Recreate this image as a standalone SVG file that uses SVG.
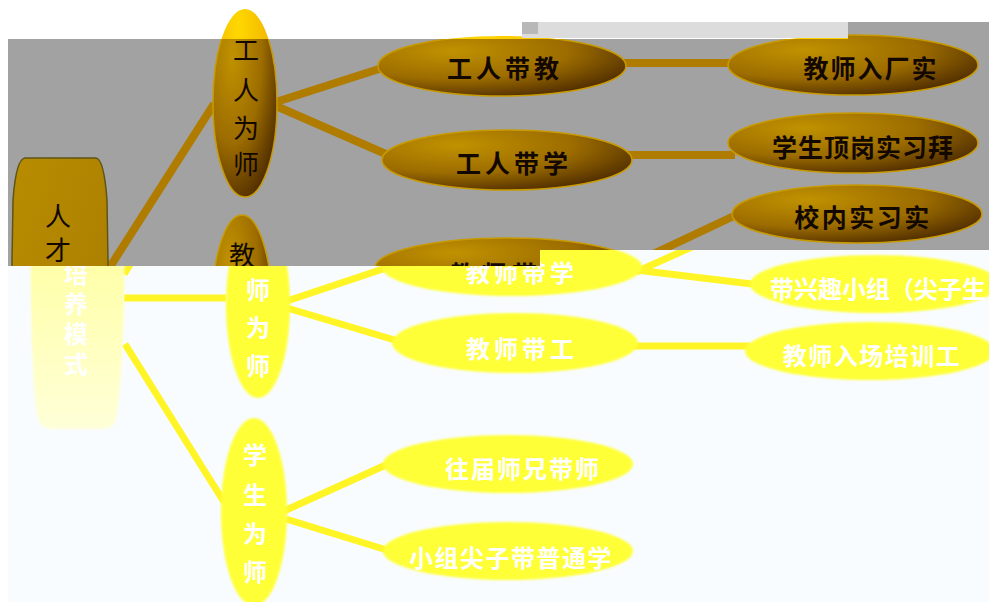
<svg xmlns="http://www.w3.org/2000/svg" width="989" height="602" viewBox="0 0 989 602">
<defs>
<style>
text{font-family:"Noto Sans CJK SC","Noto Sans",sans-serif;text-anchor:middle;dominant-baseline:central}
.gt{fill:#120800;font-weight:700;font-size:25px}
.gv{fill:#120800;font-size:26px}
.yt{fill:#ffffff;font-weight:700;font-size:24px}
.ge{fill:url(#gold);stroke:#c89a00;stroke-width:1.5}
.be{fill:url(#bright)}
.ye{fill:#ffff38;filter:url(#soft)}
.gc{stroke:#b07c00;stroke-width:8;fill:none}
.yc{stroke:#fff526;stroke-width:7;fill:none}
</style>
<radialGradient id="gold" cx="0.3" cy="0.25" r="0.85">
<stop offset="0" stop-color="#c09200"/>
<stop offset="0.55" stop-color="#9c6c00"/>
<stop offset="1" stop-color="#4a2800"/>
</radialGradient>
<radialGradient id="bright" cx="0.4" cy="0.1" r="0.6">
<stop offset="0" stop-color="#ffd800"/>
<stop offset="1" stop-color="#f0b000"/>
</radialGradient>
<linearGradient id="rootg" x1="0" y1="0" x2="1" y2="1">
<stop offset="0" stop-color="#b88c00"/>
<stop offset="1" stop-color="#a87c00"/>
</linearGradient>
<linearGradient id="rooty" x1="0" y1="0" x2="0" y2="1">
<stop offset="0" stop-color="#ffff88"/>
<stop offset="1" stop-color="#ffffd8"/>
</linearGradient>
<filter id="soft" x="-10%" y="-10%" width="120%" height="120%"><feGaussianBlur stdDeviation="1.2"/></filter>
<clipPath id="aboveclip"><rect x="0" y="0" width="989" height="39"/></clipPath>
<clipPath id="greyclip"><polygon points="8,39 848,39 848,22 989,22 989,250 540,250 540,266 8,266"/></clipPath>
<clipPath id="botclip"><polygon points="8,266 540,266 540,250 989,250 989,602 8,602"/></clipPath>
</defs>
<rect width="989" height="602" fill="#ffffff"/>

<g id="tips" clip-path="url(#aboveclip)">
<ellipse class="be" cx="245" cy="103" rx="32" ry="94"/>
<ellipse class="be" cx="502" cy="66" rx="124" ry="30"/>
<ellipse class="be" cx="853" cy="65" rx="125" ry="30"/>
</g>
<rect x="522" y="22" width="326" height="16" fill="#dcdcdc"/>
<rect x="522" y="22" width="16" height="12" fill="#b8b8b8"/>
<polygon id="grey-panel" points="8,39 848,39 848,22 989,22 989,250 540,250 540,266 8,266" fill="#a2a2a2"/>

<g id="gold-layer" clip-path="url(#greyclip)">
<g id="connectors-gold">
<line class="gc" x1="108" y1="270" x2="214" y2="104"/>
<line class="gc" x1="276" y1="102" x2="382" y2="68"/>
<line class="gc" x1="276" y1="106" x2="388" y2="155"/>
<line class="gc" x1="622" y1="63" x2="732" y2="63"/>
<line class="gc" x1="628" y1="155" x2="735" y2="155"/>
<line class="gc" x1="632" y1="264" x2="736" y2="215"/>
</g>
<g id="g-root">
<path d="M25,158 H96 Q104,159 107,200 L108,260 Q108,330 104,380 Q102,428 90,430 H30 Q18,428 16,380 Q12,330 12,260 L13,200 Q16,159 25,158 Z" fill="url(#rootg)" stroke="#5c5418" stroke-width="1.5"/>
<text class="gv" font-size="28"><tspan x="58" y="214">人</tspan><tspan x="58" y="248">才</tspan><tspan x="58" y="282">培</tspan></text>
</g>
<g id="g-gongren-weishi">
<ellipse class="ge" cx="245" cy="103" rx="32" ry="94"/>
<text class="gv"><tspan x="246" y="48">工</tspan><tspan x="246" y="88">人</tspan><tspan x="246" y="126">为</tspan><tspan x="246" y="162">师</tspan></text>
</g>
<g id="g-jiaoshi-weishi">
<ellipse class="ge" cx="242" cy="309" rx="30" ry="94"/>
<text class="gv"><tspan x="242" y="253">教</tspan><tspan x="242" y="290">师</tspan></text>
</g>
<g id="g-gongren-daijiao">
<ellipse class="ge" cx="502" cy="66" rx="124" ry="30"/>
<text class="gt" x="505" y="67" letter-spacing="4">工人带教</text>
</g>
<g id="g-gongren-daixue">
<ellipse class="ge" cx="507" cy="160" rx="125" ry="30"/>
<text class="gt" x="514" y="162" letter-spacing="4">工人带学</text>
</g>
<g id="g-jiaoshi-daixue">
<ellipse class="ge" cx="507" cy="268" rx="132" ry="30"/>
<text class="gt" x="512" y="273" letter-spacing="6">教师带学</text>
</g>
<g id="g-jiaoshi-ruchang">
<ellipse class="ge" cx="853" cy="65" rx="125" ry="30"/>
<text class="gt" x="871" y="67" letter-spacing="2">教师入厂实</text>
</g>
<g id="g-xuesheng-dinggang">
<ellipse class="ge" cx="853" cy="143" rx="125" ry="30"/>
<text class="gt" x="863" y="146" letter-spacing="1">学生顶岗实习拜</text>
</g>
<g id="g-xiaonei">
<ellipse class="ge" cx="857" cy="214" rx="125" ry="29"/>
<text class="gt" x="863" y="216" letter-spacing="2.5">校内实习实</text>
</g>
</g>

<g id="yellow-layer" clip-path="url(#botclip)">
<rect x="0" y="0" width="989" height="602" fill="#f8fcff"/>
<g id="connectors-yellow">
<line class="yc" x1="124" y1="274" x2="232" y2="105"/>
<line class="yc" x1="124" y1="298" x2="226" y2="298"/>
<line class="yc" x1="125" y1="344" x2="224" y2="502"/>
<line class="yc" x1="287" y1="301" x2="392" y2="266"/>
<line class="yc" x1="287" y1="308" x2="398" y2="341"/>
<line class="yc" x1="636" y1="272" x2="752" y2="220"/>
<line class="yc" x1="636" y1="270" x2="752" y2="284"/>
<line class="yc" x1="632" y1="346" x2="750" y2="346"/>
<line class="yc" x1="284" y1="511" x2="388" y2="464"/>
<line class="yc" x1="286" y1="519" x2="390" y2="551"/>
</g>
<g id="y-root">
<path d="M44,150 H112 Q124,152 125,210 L124,300 Q122,380 117,415 Q115,428 104,429 H50 Q39,428 37,415 Q32,380 31,300 L30,210 Q31,152 44,150 Z" fill="url(#rooty)" filter="url(#soft)"/>
<text class="yt"><tspan x="76" y="242">才</tspan><tspan x="76" y="272">培</tspan><tspan x="76" y="302">养</tspan><tspan x="76" y="332">模</tspan><tspan x="76" y="362">式</tspan></text>
</g>
<g id="y-jiaoshi-weishi">
<ellipse class="ye" cx="258" cy="305" rx="32" ry="93"/>
<text class="yt"><tspan x="258" y="250">教</tspan><tspan x="258" y="288">师</tspan><tspan x="258" y="326">为</tspan><tspan x="258" y="364">师</tspan></text>
</g>
<g id="y-xuesheng-weishi">
<ellipse class="ye" cx="254" cy="512" rx="33" ry="94"/>
<text class="yt"><tspan x="255" y="453">学</tspan><tspan x="255" y="493">生</tspan><tspan x="255" y="532">为</tspan><tspan x="255" y="570">师</tspan></text>
</g>
<g id="y-jiaoshi-daixue">
<ellipse class="ye" cx="512" cy="267" rx="130" ry="29"/>
<text class="yt" x="522" y="271" letter-spacing="4">教师带学</text>
</g>
<g id="y-jiaoshi-daigong">
<ellipse class="ye" cx="515" cy="343" rx="123" ry="30"/>
<text class="yt" x="522" y="347" letter-spacing="4">教师带工</text>
</g>
<g id="y-wangjie">
<ellipse class="ye" cx="508" cy="464" rx="125" ry="29"/>
<text class="yt" x="523" y="467" letter-spacing="2">往届师兄带师</text>
</g>
<g id="y-xiaozu">
<ellipse class="ye" cx="508" cy="551" rx="125" ry="29"/>
<text class="yt" x="511" y="556" letter-spacing="1.5">小组尖子带普通学</text>
</g>
<g id="y-xingqu">
<ellipse class="ye" cx="875" cy="284" rx="125" ry="29"/>
<text class="yt" x="770" y="287" style="text-anchor:start">带兴趣小组（尖子生</text>
</g>
<g id="y-ruchang-peixun">
<ellipse class="ye" cx="870" cy="351" rx="125" ry="29"/>
<text class="yt" x="872" y="354" letter-spacing="1.5">教师入场培训工</text>
</g>
</g>
</svg>
